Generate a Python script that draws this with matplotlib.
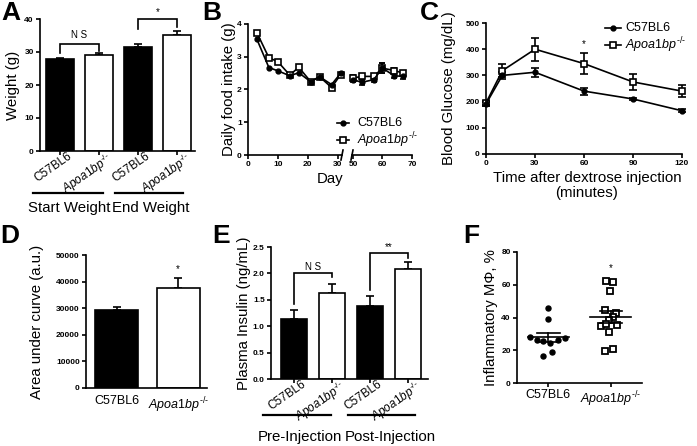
import matplotlib
matplotlib.use('Agg')
import matplotlib.pyplot as plt
import numpy as np
from matplotlib.lines import Line2D
from matplotlib.transforms import blended_transform_factory as btf, ScaledTranslation

plt.rcParams['font.family'] = ['Liberation Sans', 'DejaVu Sans']
plt.rcParams['mathtext.fontset'] = 'custom'
plt.rcParams['mathtext.it'] = 'Liberation Sans:italic'
plt.rcParams['mathtext.rm'] = 'Liberation Sans'
plt.rcParams['mathtext.bf'] = 'Liberation Sans:bold'

APOA = r'$\mathit{Apoa1bp}^{\text{-/-}}$'
WT = 'C57BL6'

# ---------------- data ----------------
# A: body weight
a_labels = [WT, APOA, WT, APOA]
a_vals = [27.8, 29.1, 31.4, 35.2]
a_err = [0.4, 0.5, 0.9, 1.2]
a_groups = ['Start Weight', 'End Weight']

# B: daily food intake
b_days1 = [3, 7, 10, 14, 17, 21, 24, 28, 31]
b_wt1 = [3.53, 2.67, 2.57, 2.42, 2.51, 2.24, 2.39, 2.15, 2.49]
b_ko1 = [3.73, 2.97, 2.85, 2.44, 2.68, 2.24, 2.39, 2.06, 2.45]
b_days2 = [50, 53, 57, 60, 64, 67]
b_wt2 = [2.30, 2.22, 2.30, 2.65, 2.42, 2.40]
b_ko2 = [2.35, 2.40, 2.40, 2.65, 2.58, 2.50]
b_err2 = [0.08, 0.08, 0.08, 0.15, 0.08, 0.08]

# C: glucose tolerance
c_time = [0, 10, 30, 60, 90, 120]
c_wt = [191, 300, 312, 240, 210, 165]
c_wt_err = [8, 14, 18, 13, 5, 5]
c_ko = [195, 318, 400, 345, 275, 240]
c_ko_err = [8, 25, 44, 40, 30, 23]

# D: area under curve
d_labels = [WT, APOA]
d_vals = [29500, 37700]
d_err = [800, 3500]

# E: plasma insulin
e_labels = [WT, APOA, WT, APOA]
e_vals = [1.13, 1.62, 1.38, 2.08]
e_err = [0.18, 0.17, 0.20, 0.13]
e_groups = ['Pre-Injection', 'Post-Injection']

# F: inflammatory macrophages (individual animals)
f_labels = [WT, APOA]
f_wt = [45.6, 39.1, 28.3, 26.1, 25.6, 24.6, 26.3, 27.3, 16.7, 18.7]
f_wt_dx = [0, 0, -0.29, -0.18, -0.09, 0.02, 0.16, 0.27, -0.08, 0.06]
f_ko = [62.3, 61.5, 56.4, 44.5, 42.5, 40.5, 38.5, 35.0, 36.0, 35.4, 31.2, 19.4, 20.8]
f_ko_dx = [-0.08, 0.04, -0.02, -0.09, 0.08, 0.04, -0.03, -0.16, -0.08, 0.10, -0.03, -0.09, 0.04]

# ---------------- figure ----------------
W, H = 697, 446
fig = plt.figure(figsize=(W / 100, H / 100), dpi=100)
LW = 1.2
TICKFS = 6
LABFS = 10.8


def ax_px(l, t, r, b):
    return fig.add_axes([l / W, 1 - b / H, (r - l) / W, (b - t) / H])


def style(ax):
    for s in ['top', 'right']:
        ax.spines[s].set_visible(False)
    for s in ['left', 'bottom']:
        ax.spines[s].set_linewidth(LW)
    ax.tick_params(direction='out', length=3, width=LW, pad=1.5)


def yticks(ax, ticks, labels):
    ax.set_yticks(ticks, labels, fontsize=TICKFS, fontweight='bold')


def ylabel(ax, text, right_px, l, r):
    ax.set_ylabel(text, fontsize=LABFS)
    ax.yaxis.set_label_coords((right_px - l) / (r - l), 0.5)


def bracket(ax, x1, x2, ytop, y1, y2, text, ty, fs):
    ax.plot([x1, x1, x2, x2], [y1, ytop, ytop, y2], color='black', lw=LW,
            clip_on=False, solid_joinstyle='miter')
    ax.text((x1 + x2) / 2, ty, text, ha='center', va='center', fontsize=fs, clip_on=False)


def panel_letter(x, y, s):
    fig.text(x / W, 1 - y / H, s, fontsize=19, fontweight='bold', va='top', ha='left')


def bars(ax, vals, err, width):
    x = np.arange(len(vals))
    cols = ['black' if i % 2 == 0 else 'white' for i in range(len(vals))]
    ax.errorbar(x, vals, yerr=[np.zeros(len(vals)), err], fmt='none', ecolor='black',
                elinewidth=LW, capsize=3, capthick=LW, zorder=1)
    ax.bar(x, vals, width=width, color=cols, edgecolor='black', linewidth=LW, zorder=2)
    return x


def group_lines(ax, spans, names, text_x, yl, yt):
    tr = btf(ax.transData, ax.transAxes)
    for (x0, x1), n, tx in zip(spans, names, text_x):
        ax.plot([x0, x1], [yl, yl], transform=tr, color='black', lw=1.6, clip_on=False)
        ax.text(tx, yt, n, transform=tr, ha='center', va='center', fontsize=LABFS)


def rot_labels(ax, x, labels):
    ax.set_xticks(x, labels, rotation=35, ha='right', rotation_mode='anchor', fontsize=8.5)
    ax.tick_params(axis='x', pad=0.5)
    off = ScaledTranslation(7 / 100, 6 / 100, fig.dpi_scale_trans)
    for lab in ax.get_xticklabels():
        lab.set_transform(lab.get_transform() + off)


# ---- Panel A ----
l, t, r, b = 40, 19, 195, 151
axA = ax_px(l, t, r, b)
style(axA)
x = bars(axA, a_vals, a_err, 0.72)
axA.set_xlim(-0.51, 3.45)
axA.set_ylim(0, 40)
yticks(axA, [0, 10, 20, 30, 40], ['0', '10', '20', '30', '40'])
rot_labels(axA, x, a_labels)
ylabel(axA, 'Weight (g)', 20, l, r)
bracket(axA, 0, 1, 32.3, 29.6, 30.3, 'N S', 35.2, 7)
bracket(axA, 2, 3, 40.0, 36.9, 37.6, '*', 42.0, 7)
group_lines(axA, [(-0.69, 1.1), (1.41, 3.15)], a_groups, [0.23, 2.33], -0.318, -0.43)
panel_letter(1, 1, 'A')

# ---- Panel B ----
axB1 = ax_px(248, 24, 342, 155)
axB2 = ax_px(351.5, 24, 412, 155)
for ax in (axB1, axB2):
    style(ax)
    ax.set_ylim(0, 4)
axB2.spines['left'].set_visible(False)
axB2.set_yticks([])
axB1.set_xlim(0, 31.5)
axB2.set_xlim(49.5, 70)
yticks(axB1, [0, 1, 2, 3, 4], ['0', '1', '2', '3', '4'])
axB1.set_xticks([0, 10, 20, 30], ['0', '10', '20', '30'], fontsize=TICKFS, fontweight='bold')
axB2.set_xticks([50, 60, 70], ['50', '60', '70'], fontsize=TICKFS, fontweight='bold')
wt_kw = dict(color='black', marker='o', ms=3.5, lw=LW, clip_on=False)
ko_kw = dict(color='black', marker='s', ms=5, mfc='white', mec='black', mew=LW, lw=LW, clip_on=False)
axB1.plot(b_days1, b_ko1, **ko_kw)
axB1.plot(b_days1, b_wt1, **wt_kw)
axB2.errorbar(b_days2, b_ko2, yerr=b_err2, capsize=2, elinewidth=LW, capthick=LW, **ko_kw)
axB2.errorbar(b_days2, b_wt2, yerr=b_err2, capsize=2, elinewidth=LW, capthick=LW, **wt_kw)
ylabel(axB1, 'Daily food intake (g)', 236, 248, 342)
fig.text(330 / W, 1 - 179 / H, 'Day', fontsize=LABFS, ha='center', va='center')
# axis break marks
for xb in (342, 352):
    fig.add_artist(Line2D([(xb - 1) / W, (xb + 1) / W], [1 - 160 / H, 1 - 150 / H],
                          transform=fig.transFigure, color='black', lw=LW))
panel_letter(202, 1, 'B')


def legend_item(x0, x1, y, kw, text, tx):
    fig.add_artist(Line2D([x0 / W, x1 / W], [1 - y / H] * 2, transform=fig.transFigure,
                          color='black', lw=LW))
    mk = {k: v for k, v in kw.items() if k in ('marker', 'ms', 'mfc', 'mec', 'mew', 'color')}
    fig.add_artist(Line2D([(x0 + x1) / 2 / W], [1 - y / H], transform=fig.transFigure,
                          ls='none', **mk))
    fig.text(tx / W, 1 - y / H, text, fontsize=9, va='center', ha='left')


legend_item(337, 349, 123, wt_kw, WT, 357)
legend_item(337, 349, 140, ko_kw, APOA, 357)

# ---- Panel C ----
l, t, r, b = 486, 23, 682, 154
axC = ax_px(l, t, r, b)
style(axC)
axC.errorbar(c_time, c_ko, yerr=c_ko_err, capsize=3, elinewidth=LW, capthick=LW, **ko_kw)
axC.errorbar(c_time, c_wt, yerr=c_wt_err, capsize=3, elinewidth=LW, capthick=LW, **wt_kw)
axC.set_xlim(0, 120)
axC.set_ylim(0, 500)
axC.set_xticks([0, 30, 60, 90, 120], ['0', '30', '60', '90', '120'], fontsize=TICKFS, fontweight='bold')
yticks(axC, [0, 100, 200, 300, 400, 500], ['0', '100', '200', '300', '400', '500'])
axC.text(60, 420, '*', ha='center', va='center', fontsize=7)
ylabel(axC, 'Blood Glucose (mg/dL)', 456, l, r)
fig.text(587 / W, 1 - 178 / H, 'Time after dextrose injection', fontsize=LABFS, ha='center', va='center')
fig.text(587 / W, 1 - 193 / H, '(minutes)', fontsize=LABFS, ha='center', va='center')
legend_item(605, 621, 28, wt_kw, WT, 625)
legend_item(605, 621, 45, ko_kw, APOA, 625)
panel_letter(420, 1, 'C')

# ---- Panel D ----
l, t, r, b = 86, 255, 207, 388
axD = ax_px(l, t, r, b)
style(axD)
x = bars(axD, d_vals, d_err, 0.7)
axD.set_xlim(-0.5, 1.47)
axD.set_ylim(0, 50000)
yticks(axD, [0, 10000, 20000, 30000, 40000, 50000],
       ['0', '10000', '20000', '30000', '40000', '50000'])
axD.set_xticks(x, d_labels, fontsize=9)
axD.tick_params(axis='x', length=0, pad=5)
axD.text(1, 44700, '*', ha='center', va='center', fontsize=7)
ylabel(axD, 'Area under curve (a.u.)', 44, l, r)
panel_letter(0, 224, 'D')

# ---- Panel E ----
l, t, r, b = 271, 247, 428, 379
axE = ax_px(l, t, r, b)
style(axE)
x = bars(axE, e_vals, e_err, 0.68)
axE.set_xlim(-0.6, 3.53)
axE.set_ylim(0, 2.5)
yticks(axE, [0, 0.5, 1.0, 1.5, 2.0, 2.5], ['0.0', '0.5', '1.0', '1.5', '2.0', '2.5'])
rot_labels(axE, x, e_labels)
ylabel(axE, 'Plasma Insulin (ng/mL)', 251, l, r)
bracket(axE, 0, 1, 2.0, 1.42, 1.93, 'N S', 2.13, 7)
bracket(axE, 2, 3, 2.38, 1.68, 2.30, '**', 2.5, 7)
group_lines(axE, [(-0.82, 0.97), (1.42, 3.18)], e_groups, [0.15, 2.53], -0.273, -0.44)
panel_letter(212, 224, 'E')

# ---- Panel F ----
l, t, r, b = 517, 252, 642, 383
axF = ax_px(l, t, r, b)
style(axF)
axF.set_xlim(-0.5, 1.5)
axF.set_ylim(0, 80)
axF.plot(0 + np.array(f_wt_dx), f_wt, 'o', color='black', ms=3.6, clip_on=False)
axF.plot(1 + np.array(f_ko_dx), f_ko, 's', mfc='white', mec='black', mew=1.3, ms=4.2, clip_on=False)
for i, vals in enumerate([f_wt, f_ko]):
    v = np.array(vals)
    m = v.mean()
    se = v.std(ddof=1) / np.sqrt(len(v))
    axF.plot([i - 0.33, i + 0.33], [m, m], color='black', lw=LW)
    axF.plot([i - 0.18, i + 0.18], [m + se, m + se], color='black', lw=LW)
    axF.plot([i - 0.18, i + 0.18], [m - se, m - se], color='black', lw=LW)
    axF.plot([i, i], [m - se, m + se], color='black', lw=LW)
axF.text(1, 70, '*', ha='center', va='center', fontsize=7)
yticks(axF, [0, 20, 40, 60, 80], ['0', '20', '40', '60', '80'])
axF.set_xticks([0, 1], f_labels, fontsize=9)
ylabel(axF, 'Inflammatory MΦ, %', 498, l, r)
panel_letter(463, 224, 'F')

fig.savefig('out.png', dpi=100)
